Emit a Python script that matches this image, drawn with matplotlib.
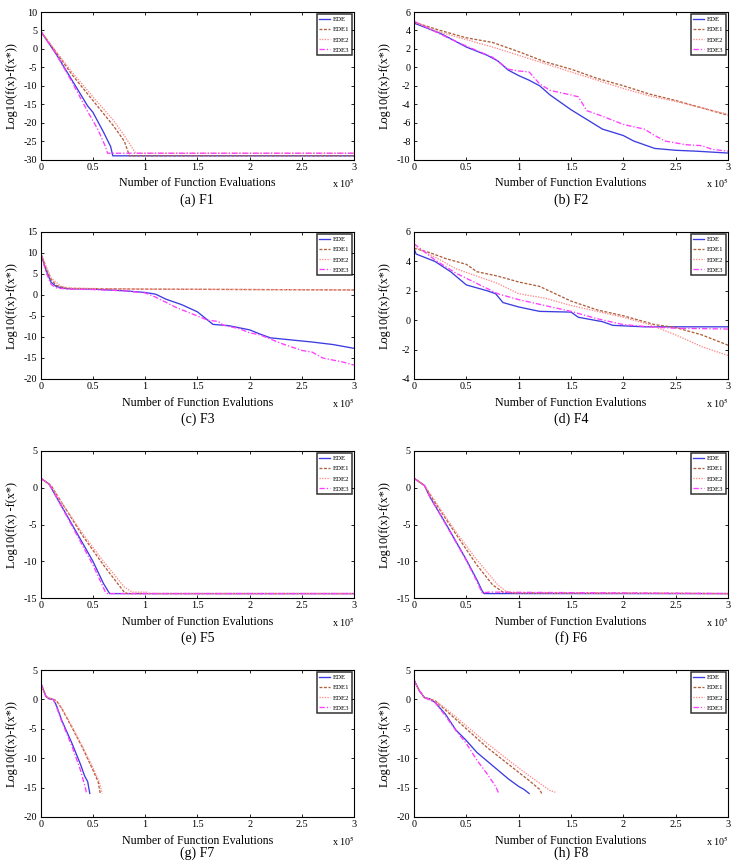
import matplotlib
matplotlib.use("Agg")
import matplotlib.pyplot as plt
from matplotlib.ticker import FuncFormatter, MultipleLocator

plt.rcParams['font.family'] = ['Liberation Serif', 'DejaVu Serif']
plt.rcParams['mathtext.fontset'] = 'stix'
plt.rcParams['axes.unicode_minus'] = False

series_names = ["EDE", "EDE1", "EDE2", "EDE3"]
series_colors = ["#3c3ce0", "#b0603c", "#ff8a8a", "#ff3cff"]
series_styles = ["-", (0, (2.2, 1.2)), (0, (1, 1)), (0, (4, 1.5, 1, 1.5))]

captions = ["(a) F1", "(b) F2", "(c) F3", "(d) F4", "(e) F5", "(f) F6", "(g) F7", "(h) F8"]
ylabels = ["Log10(f(x)-f(x*))"] * 8
ylabels[4] = "Log10(f(x) -f(x*)"
xlabels = ["Number of Function Evalutions"] * 8
xlabels[0] = "Number of Function Evaluations"
ylims = [(-30, 10), (-10, 6), (-20, 15), (-4, 6), (-15, 5), (-15, 5), (-20, 5), (-20, 5)]
ysteps = [5, 2, 5, 2, 5, 5, 5, 5]

# x in units of 10^5 function evaluations
# ---- F1 ----
f1_ede_x = [0, 0.15, 0.3, 0.45, 0.5, 0.6, 0.67, 0.69, 3.0]
f1_ede_y = [4.8, -1.5, -8.5, -15.5, -17.2, -22.5, -26.5, -29.0, -29.0]
f1_ede1_x = [0, 0.15, 0.3, 0.5, 0.7, 0.8, 0.85, 3.0]
f1_ede1_y = [4.8, -1.0, -7.0, -14.0, -21.0, -25.0, -29.0, -29.0]
f1_ede2_x = [0, 0.15, 0.3, 0.5, 0.7, 0.8, 0.88, 0.91, 3.0]
f1_ede2_y = [4.8, -0.8, -6.3, -13.0, -19.5, -23.5, -27.0, -28.3, -28.3]
f1_ede3_x = [0, 0.15, 0.3, 0.45, 0.55, 0.62, 0.64, 3.0]
f1_ede3_y = [4.8, -1.5, -9.0, -17.0, -22.0, -26.5, -28.3, -28.3]

# ---- F2 ----
f2_ede_x = [0, 0.25, 0.5, 0.7, 0.8, 0.9, 1.0, 1.1, 1.2, 1.3, 1.5, 1.7, 1.8, 2.0, 2.1, 2.3, 2.5, 2.7, 3.0]
f2_ede_y = [4.8, 3.7, 2.2, 1.3, 0.7, -0.3, -0.9, -1.4, -2.0, -3.0, -4.6, -6.0, -6.7, -7.4, -8.0, -8.8, -9.0, -9.1, -9.3]
f2_ede1_x = [0, 0.25, 0.5, 0.75, 1.0, 1.25, 1.5, 1.75, 2.0, 2.25, 2.5, 2.75, 3.0]
f2_ede1_y = [4.9, 4.0, 3.2, 2.7, 1.7, 0.6, -0.2, -1.2, -2.0, -2.9, -3.6, -4.4, -5.2]
f2_ede2_x = [0, 0.25, 0.5, 0.75, 1.0, 1.25, 1.5, 1.75, 2.0, 2.25, 2.5, 2.75, 3.0]
f2_ede2_y = [4.9, 3.8, 3.0, 2.2, 1.3, 0.4, -0.5, -1.4, -2.3, -3.1, -3.7, -4.4, -5.1]
f2_ede3_x = [0, 0.25, 0.5, 0.75, 0.9, 1.0, 1.1, 1.2, 1.3, 1.5, 1.57, 1.65, 1.8, 2.0, 2.2, 2.3, 2.4, 2.6, 2.75, 2.85, 3.0]
f2_ede3_y = [5.0, 3.6, 2.3, 1.1, -0.2, -0.4, -0.5, -1.8, -2.5, -3.0, -3.2, -4.7, -5.3, -6.2, -6.7, -7.4, -8.0, -8.4, -8.5, -8.9, -9.1]

# ---- F3 ----
f3_ede_x = [0, 0.05, 0.1, 0.15, 0.25, 0.5, 0.8, 1.0, 1.1, 1.2, 1.35, 1.5, 1.65, 1.8, 2.0, 2.1, 2.2, 2.4, 2.6, 2.8, 3.0]
f3_ede_y = [10, 6, 3, 2, 1.5, 1.4, 1.0, 0.6, 0.2, -1.0, -2.3, -4.0, -7.0, -7.3, -8.3, -9.3, -10.2, -10.7, -11.2, -11.8, -12.7]
f3_ede1_x = [0, 0.05, 0.1, 0.15, 0.25, 0.5, 1.0, 2.0, 3.0]
f3_ede1_y = [10, 6.5, 3.7, 2.3, 1.6, 1.5, 1.4, 1.3, 1.2]
f3_ede2_x = [0, 0.05, 0.1, 0.2, 0.3, 1.0, 2.0, 3.0]
f3_ede2_y = [10, 7.0, 4.0, 2.0, 1.6, 1.4, 1.3, 1.2]
f3_ede3_x = [0, 0.05, 0.1, 0.15, 0.25, 0.5, 0.8, 1.0, 1.1, 1.3, 1.45, 1.6, 1.7, 1.75, 1.9, 2.0, 2.1, 2.3, 2.5, 2.6, 2.7, 2.9, 3.0]
f3_ede3_y = [10, 5.5, 2.5, 1.7, 1.4, 1.3, 1.0, 0.5, -0.5, -3.0, -4.5, -6.0, -6.3, -7.2, -8.0, -9.0, -9.5, -11.5, -13.2, -13.6, -15.0, -16.0, -16.7]

# ---- F4 ----
f4_ede_x = [0, 0.02, 0.2, 0.35, 0.5, 0.6, 0.7, 0.78, 0.85, 1.0, 1.2, 1.5, 1.57, 1.8, 1.9, 2.2, 3.0]
f4_ede_y = [4.9, 4.5, 4.0, 3.3, 2.4, 2.2, 2.0, 1.8, 1.2, 0.9, 0.6, 0.55, 0.2, -0.1, -0.35, -0.45, -0.45]
f4_ede1_x = [0, 0.15, 0.3, 0.5, 0.6, 0.8, 1.0, 1.2, 1.5, 1.75, 2.0, 2.3, 2.5, 2.75, 3.0]
f4_ede1_y = [4.9, 4.6, 4.2, 3.8, 3.3, 3.0, 2.6, 2.3, 1.3, 0.7, 0.3, -0.3, -0.5, -1.0, -1.7]
f4_ede2_x = [0, 0.2, 0.4, 0.6, 0.8, 1.0, 1.25, 1.5, 1.75, 2.0, 2.25, 2.5, 2.75, 3.0]
f4_ede2_y = [5.0, 4.3, 3.5, 3.0, 2.5, 1.8, 1.5, 1.0, 0.6, 0.2, -0.3, -1.0, -1.8, -2.4]
f4_ede3_x = [0, 0.2, 0.4, 0.6, 0.8, 1.0, 1.25, 1.5, 1.75, 2.0, 2.25, 2.5, 3.0]
f4_ede3_y = [5.2, 4.1, 3.2, 2.5, 1.8, 1.4, 1.0, 0.6, 0.1, -0.3, -0.45, -0.55, -0.6]

# ---- F5 ----
f5_ede_x = [0, 0.08, 0.12, 0.3, 0.5, 0.6, 0.66, 3.0]
f5_ede_y = [1.3, 0.5, -0.5, -5.0, -10.0, -13.0, -14.4, -14.4]
f5_ede1_x = [0, 0.1, 0.2, 0.4, 0.6, 0.8, 0.83, 3.0]
f5_ede1_y = [1.3, 0.3, -2.0, -6.5, -10.5, -14.2, -14.4, -14.4]
f5_ede2_x = [0, 0.1, 0.2, 0.4, 0.6, 0.8, 0.88, 1.02, 1.03, 3.0]
f5_ede2_y = [1.3, 0.3, -2.0, -6.2, -10.0, -13.5, -14.2, -14.2, -14.4, -14.4]
f5_ede3_x = [0, 0.08, 0.12, 0.3, 0.5, 0.62, 0.64, 3.0]
f5_ede3_y = [1.3, 0.5, -0.5, -5.2, -10.5, -14.2, -14.4, -14.4]

# ---- F6 ----
f6_ede_x = [0, 0.1, 0.15, 0.3, 0.5, 0.6, 0.65, 0.67, 3.0]
f6_ede_y = [1.3, 0.3, -1.2, -4.8, -9.8, -12.5, -14.0, -14.4, -14.4]
f6_ede1_x = [0, 0.1, 0.2, 0.4, 0.6, 0.75, 0.85, 0.95, 3.0]
f6_ede1_y = [1.3, 0.3, -2.0, -6.3, -10.5, -13.2, -14.2, -14.3, -14.4]
f6_ede2_x = [0, 0.1, 0.2, 0.4, 0.6, 0.8, 0.88, 0.95, 3.0]
f6_ede2_y = [1.3, 0.3, -1.8, -6.0, -9.8, -13.2, -14.1, -14.3, -14.4]
f6_ede3_x = [0, 0.1, 0.15, 0.3, 0.5, 0.6, 0.65, 0.72, 3.0]
f6_ede3_y = [1.3, 0.3, -1.2, -4.9, -9.9, -12.7, -14.3, -14.2, -14.4]

# ---- F7 ----
f7_ede_x = [0, 0.05, 0.08, 0.12, 0.15, 0.2, 0.3, 0.38, 0.42, 0.45, 0.47]
f7_ede_y = [2.8, 0.5, 0.1, 0.0, -1.0, -3.5, -7.5, -11.0, -13.0, -14.0, -16.0]
f7_ede1_x = [0, 0.05, 0.1, 0.15, 0.2, 0.3, 0.4, 0.5, 0.55, 0.57]
f7_ede1_y = [2.8, 0.5, 0.1, -0.2, -1.5, -4.8, -8.2, -12.0, -14.0, -16.0]
f7_ede2_x = [0, 0.05, 0.1, 0.15, 0.2, 0.3, 0.4, 0.5, 0.56, 0.59]
f7_ede2_y = [2.8, 0.5, 0.1, -0.2, -1.4, -4.6, -8.0, -11.6, -14.0, -16.0]
f7_ede3_x = [0, 0.05, 0.08, 0.12, 0.15, 0.2, 0.3, 0.38, 0.42, 0.44]
f7_ede3_y = [2.8, 0.5, 0.1, 0.0, -1.2, -3.7, -8.0, -12.0, -14.5, -16.0]

# ---- F8 ----
f8_ede_x = [0, 0.05, 0.1, 0.15, 0.2, 0.3, 0.4, 0.5, 0.6, 0.7, 0.8, 0.9, 1.0, 1.05, 1.1]
f8_ede_y = [3.3, 1.5, 0.3, 0.1, -0.5, -2.5, -5.2, -7.0, -9.0, -10.5, -12.0, -13.5, -14.8, -15.3, -16.0]
f8_ede1_x = [0, 0.05, 0.1, 0.2, 0.3, 0.5, 0.7, 0.9, 1.1, 1.2, 1.22]
f8_ede1_y = [3.3, 1.5, 0.3, -0.2, -1.8, -5.0, -8.2, -11.0, -13.8, -15.3, -16.0]
f8_ede2_x = [0, 0.05, 0.1, 0.2, 0.3, 0.5, 0.7, 0.9, 1.1, 1.3, 1.35]
f8_ede2_y = [3.3, 1.5, 0.3, -0.2, -1.5, -4.5, -7.5, -10.3, -13.0, -15.5, -15.8]
f8_ede3_x = [0, 0.05, 0.1, 0.2, 0.3, 0.4, 0.5, 0.6, 0.7, 0.78, 0.81]
f8_ede3_y = [3.3, 1.5, 0.3, -0.5, -2.8, -5.3, -7.5, -10.3, -12.7, -14.8, -16.0]

panels = [
    [(f1_ede_x, f1_ede_y), (f1_ede1_x, f1_ede1_y), (f1_ede2_x, f1_ede2_y), (f1_ede3_x, f1_ede3_y)],
    [(f2_ede_x, f2_ede_y), (f2_ede1_x, f2_ede1_y), (f2_ede2_x, f2_ede2_y), (f2_ede3_x, f2_ede3_y)],
    [(f3_ede_x, f3_ede_y), (f3_ede1_x, f3_ede1_y), (f3_ede2_x, f3_ede2_y), (f3_ede3_x, f3_ede3_y)],
    [(f4_ede_x, f4_ede_y), (f4_ede1_x, f4_ede1_y), (f4_ede2_x, f4_ede2_y), (f4_ede3_x, f4_ede3_y)],
    [(f5_ede_x, f5_ede_y), (f5_ede1_x, f5_ede1_y), (f5_ede2_x, f5_ede2_y), (f5_ede3_x, f5_ede3_y)],
    [(f6_ede_x, f6_ede_y), (f6_ede1_x, f6_ede1_y), (f6_ede2_x, f6_ede2_y), (f6_ede3_x, f6_ede3_y)],
    [(f7_ede_x, f7_ede_y), (f7_ede1_x, f7_ede1_y), (f7_ede2_x, f7_ede2_y), (f7_ede3_x, f7_ede3_y)],
    [(f8_ede_x, f8_ede_y), (f8_ede1_x, f8_ede1_y), (f8_ede2_x, f8_ede2_y), (f8_ede3_x, f8_ede3_y)],
]

W, H = 734, 861
fig = plt.figure(figsize=(W / 100, H / 100), dpi=100)

col_left = [40.7, 414.0]
col_right = [354.0, 728.0]
row_top = [12.0, 232.0, 451.0, 670.0]
row_bottom = [159.5, 379.0, 598.0, 817.0]
caption_offset = [40.5, 40.5, 40.5, 36.0]

fmt = FuncFormatter(lambda v, p: "%g" % v)

for i in range(8):
    r, c = divmod(i, 2)
    l, rr = col_left[c], col_right[c]
    t, b = row_top[r], row_bottom[r]
    ax = fig.add_axes([l / W, 1 - b / H, (rr - l) / W, (b - t) / H])
    for k in range(4):
        xs, ys = panels[i][k]
        ax.plot(xs, ys, color=series_colors[k], linestyle=series_styles[k],
                linewidth=0.95, label=series_names[k])
    ax.set_xlim(0, 3)
    ax.set_ylim(*ylims[i])
    ax.xaxis.set_major_locator(MultipleLocator(0.5))
    ax.yaxis.set_major_locator(MultipleLocator(ysteps[i]))
    ax.xaxis.set_major_formatter(fmt)
    ax.yaxis.set_major_formatter(fmt)
    ax.tick_params(direction='in', top=True, right=True, length=2.5, width=0.6,
                   labelsize=7.3, pad=2.5)
    for s in ax.spines.values():
        s.set_linewidth(0.8)
    ax.set_xlabel(xlabels[i], fontsize=8.6)
    ax.xaxis.set_label_coords(0.5, -24.0 / (b - t))
    ax.xaxis.label.set_va('center')
    ax.set_ylabel(ylabels[i], fontsize=8.8)
    ax.yaxis.set_label_coords(-29.0 / (rr - l), 0.5)
    ax.yaxis.label.set_va('center')
    leg = ax.legend(loc='upper right', fontsize=4.9, frameon=True, fancybox=False,
                    borderaxespad=0.25, handlelength=1.6, handletextpad=0.4,
                    labelspacing=0.65, borderpad=0.4)
    leg.get_frame().set_edgecolor('black')
    leg.get_frame().set_linewidth(1.1)
    # x 10^5 multiplier
    ax.text(1.0 + 1.0 / (rr - l), -24.0 / (b - t), r"x 10$^{5}$", transform=ax.transAxes,
            ha='right', va='center', fontsize=7.3)
    # caption
    fig.text((l + rr) / 2 / W, 1 - (b + caption_offset[r]) / H, captions[i],
             ha='center', va='center', fontsize=10)

fig.savefig("out.png", dpi=100)
